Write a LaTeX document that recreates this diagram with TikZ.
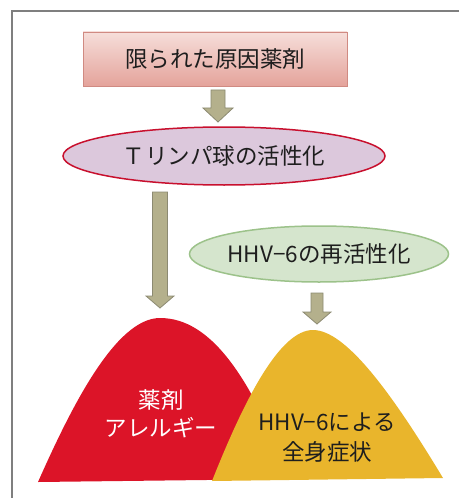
\documentclass[tikz,border=0pt]{standalone}
\usepackage{fontspec}
\setmainfont{Noto Sans CJK JP}
\usetikzlibrary{shapes.geometric}
\definecolor{framecol}{HTML}{7F7F7F}
\definecolor{boxtop}{HTML}{F6DEDA}
\definecolor{boxbot}{HTML}{E4A39B}
\definecolor{boxline}{HTML}{D08A82}
\definecolor{ellafill}{HTML}{DCC8DC}
\definecolor{ellaline}{HTML}{C8102E}
\definecolor{ellbfill}{HTML}{D5E5CD}
\definecolor{ellbline}{HTML}{9CC28A}
\definecolor{arrfill}{HTML}{B4B08C}
\definecolor{arrline}{HTML}{8C8A72}
\definecolor{bellred}{HTML}{DC1428}
\definecolor{bellyellow}{HTML}{E9B52C}
\definecolor{txt}{HTML}{1E1E1E}
\newcommand\blockarr[7]{% name, cx, ytop, yhead, ytip, half shaft, half head
  \coordinate (#1) at (#2,#5);
  \draw[blockarrow] ({#2-#6},#3) -- ({#2+#6},#3) -- ({#2+#6},#4) -- ({#2+#7},#4)
    -- (#1) -- ({#2-#7},#4) -- ({#2-#6},#4) -- cycle;}
\begin{document}
\begin{tikzpicture}[x=1pt,y=-1pt,
  font=\fontsize{22.5}{28}\selectfont,
  srcbox/.style={rectangle, draw=boxline, line width=0.8pt, top color=boxtop,
    bottom color=boxbot, minimum width=264pt, minimum height=54pt, inner sep=0pt, text=txt},
  ellA/.style={ellipse, draw=ellaline, line width=1.5pt, fill=ellafill,
    minimum width=322pt, minimum height=58pt, inner sep=0pt, text=txt},
  ellB/.style={ellipse, draw=ellbline, line width=1.5pt, fill=ellbfill,
    minimum width=210pt, minimum height=56pt, inner sep=0pt, text=txt},
  blockarrow/.style={fill=arrfill, draw=arrline, line width=0.8pt, line join=miter},
  belltext/.style={align=center, inner sep=0pt}]
\useasboundingbox (0,0) rectangle (459,500);
\draw[framecol, line width=1.2pt] (459,11) -- (12,11) -- (12,498);

\node[srcbox] (src) at (215,59) {限られた原因薬剤};
\blockarr{a1}{218}{90}{108}{122}{7}{15}
\node[ellA] (tcell) at (224,156) {Ｔリンパ球の活性化};
\blockarr{a2}{160}{192}{296}{308}{7.5}{14}
\node[ellB] (hhv) at (319,254) {HHV−6の再活性化};
\blockarr{a3}{317}{293}{312}{324}{6}{14}

\fill[bellred] (38,482) .. controls (70,410) and (115,318) .. (160,318)
  .. controls (210,318) and (250,375) .. (290,479) -- cycle;
\fill[bellyellow] (212,481) .. controls (245,398) and (280,330) .. (313,330)
  .. controls (345,330) and (390,390) .. (443,478) -- cycle;

\node[belltext, text=white] (drug) at (161,414) {薬剤\\アレルギー};
\node[belltext, text=txt, font=\fontsize{22.5}{30}\selectfont] (sym) at (327,438) {HHV−6による\\全身症状};
\end{tikzpicture}
\end{document}
